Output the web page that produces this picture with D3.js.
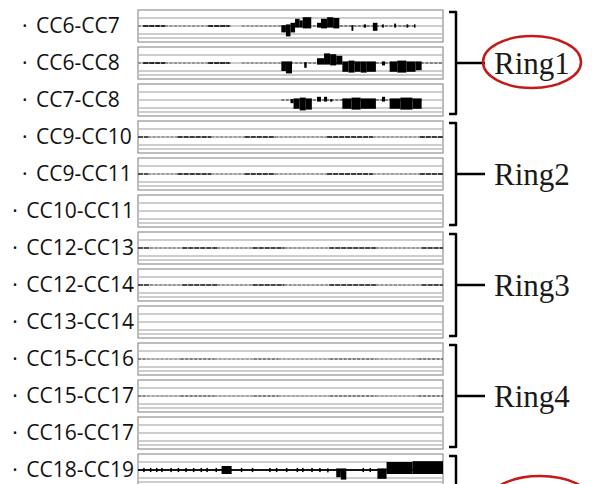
<!DOCTYPE html>
<html>
<head>
<meta charset="utf-8">
<script src="https://cdn.jsdelivr.net/npm/d3@7"></script>
<style>
  body { margin: 0; background: #fff; }
</style>
</head>
<body>
<div id="chart"></div>
<script>
// channel pairs, one panel each
var pairs = ["CC6-CC7", "CC6-CC8", "CC7-CC8", "CC9-CC10", "CC9-CC11", "CC10-CC11",
             "CC12-CC13", "CC12-CC14", "CC13-CC14", "CC15-CC16", "CC15-CC17", "CC16-CC17", "CC18-CC19"];
var ringNames = ["Ring1", "Ring2", "Ring3", "Ring4", "Ring5"];
var ringOf = [0, 0, 0, 1, 1, 1, 2, 2, 2, 3, 3, 3, 4];
var circled = ["Ring1", "Ring5"];
var gridTicks = [5, 0, -5, -7.5];

// baseline trace pieces: [start %, end %, shade]
var traceCC6CC7 = [[0, 31, .35], [1.7, 8.9, .75], [23, 30, .75], [34, 47, .35], [47, 91, .5]];
var traceCC6CC8 = [[0, 31, .35], [1.7, 8.9, .75], [23, 30, .75], [34, 47, .35], [47, 100, .5]];
var traceCC7CC8 = [[47, 93, .5]];
var traceRing2 = [[0, 3.3, .6], [3.3, 13, .3], [13, 24, .7], [24, 35, .3], [35, 45, .7],
                  [45, 62, .3], [62, 77, .7], [77, 92.4, .3], [92.4, 100, .7]];
var traceRing3 = [[0, 4, .6], [4, 14.5, .35], [14.5, 26, .65], [26, 37.6, .35], [37.6, 48, .65],
                  [48, 62.7, .35], [62.7, 78, .65], [78, 93, .35], [93, 100, .65]];
var traceRing4 = [[0, 3, .45], [3, 14, .25], [14, 25, .5], [25, 38, .25], [38, 46, .5],
                  [46, 63, .25], [63, 78, .5], [78, 92, .25], [92, 100, .5]];
var traceCC18CC19 = [[0, 100, .9]];

// bursts: [start %, end %, up, down]
var burstCC6CC7 = [[47, 48.5, .5, 4], [48.5, 50, 1, 6.5], [50, 51.5, 2, 4], [51.5, 53, 4.5, 1], [53, 54, 3.5, 1],
                   [54, 56.8, 5.5, 1.5], [58.7, 60, 2, 1], [60, 62, 4.5, 1.5], [62, 64, 5.5, 1], [64, 66, 5, 1.5],
                   [70, 70.6, .5, 3], [74, 74.8, 1, 1], [77, 78.5, 2, 3], [80, 80.6, 1, 1], [84, 84.6, 1.5, 1],
                   [88, 88.6, 1, 1], [90.5, 91, 1, 1]];
var burstCC6CC8 = [[47, 48.5, 1, 5], [48.5, 50.5, 1, 6.5], [54.5, 55.3, .5, 3], [58.7, 61, 3, 1], [61, 63, 6, 1],
                   [63, 65, 5.5, 1.5], [65, 67, 4.5, 1], [67, 69, 1, 5.5], [69, 71, 1.5, 6], [71, 73, 1, 5.5],
                   [73, 75, 1, 6], [75, 78, 1, 5.5], [80, 81, 1, 1.5], [82.5, 85, 1, 5.5], [85, 88, 1.5, 6],
                   [88, 91, 1, 5.5], [91, 93, 1, 4.5]];
var burstCC7CC8 = [[50, 51, .5, 2], [51, 53, 1, 5.5], [53, 55, 1.5, 6.5], [55, 57, 1, 6], [58.7, 60, 2, 1],
                   [61, 62, 2, 1], [63, 63.7, .5, 1], [67, 70, 1, 5.5], [70, 73, 1.5, 6], [73, 78, 1, 5.5],
                   [80, 81, 2, 1], [82.5, 86, 1, 5.5], [86, 90, 1.5, 6], [90, 93, 1, 5.5]];
var burstCC18CC19 = [[1.7, 2.2, 1.3, 1.3], [3.9, 4.4, 1.3, 1.3], [5.9, 6.4, 1.3, 1.3], [7.6, 8.1, 1.3, 1.3],
                     [10.6, 11.1, 1.3, 1.3], [13, 13.5, 1.3, 1.3], [15.5, 16, 1.3, 1.3], [18, 18.5, 1.3, 1.3],
                     [20.5, 21, 1.3, 1.3], [22.4, 22.9, 1.3, 1.3], [25.4, 25.9, 1.3, 1.3], [27.4, 30.7, 2.5, 2.5],
                     [33.7, 34.2, 1.3, 1.3], [37.3, 37.8, 1.3, 1.3], [43, 43.5, 1.3, 1.3], [45.2, 45.7, 1.3, 1.3],
                     [48.5, 49, 1.3, 1.3], [52, 52.5, 1.3, 1.3], [53.8, 54.3, 1.3, 1.3], [56.8, 57.3, 1.3, 1.3],
                     [59.4, 59.9, 1.3, 1.3], [62, 62.5, 1, 1.5], [65, 66.5, 1, 4.5], [66.5, 68.3, 1, 6],
                     [73.6, 74.1, 1.3, 1.3], [75.9, 76.4, 1.3, 1.3], [78.5, 81.5, 1, 5.5], [81.5, 90, 5, 2.5],
                     [90, 100, 5.5, 2.5]];

var traces = [traceCC6CC7, traceCC6CC8, traceCC7CC8, traceRing2, traceRing2, [],
              traceRing3, traceRing3, [], traceRing4, traceRing4, [], traceCC18CC19];
var bursts = [burstCC6CC7, burstCC6CC8, burstCC7CC8, [], [], [], [], [], [], [], [], [], burstCC18CC19];

var width = 592, height = 484;
var svg = d3.select('#chart').append('svg')
  .attr('width', width).attr('height', height);

var x = d3.scaleLinear().domain([0, 100]).range([138, 443]);
var step = 37;
var row = d3.scaleBand().domain(pairs).range([10, 10 + step * 13 - 5]).paddingInner(5 / step).paddingOuter(0);
var bw = row.bandwidth();

pairs.forEach(function (p, i) {
  var top = row(p);
  var y = d3.scaleLinear().domain([10, -10]).range([top, top + bw]);
  var g = svg.append('g');

  g.append('rect')
    .attr('x', x(0)).attr('y', top)
    .attr('width', x(100) - x(0)).attr('height', bw)
    .attr('fill', 'none').attr('stroke', '#9a9a9a').attr('stroke-width', 1.3);

  g.selectAll('line.grid').data(gridTicks).enter().append('line')
    .attr('x1', x(0) + 1).attr('x2', x(100) - 1)
    .attr('y1', function (d) { return y(d); }).attr('y2', function (d) { return y(d); })
    .attr('stroke', '#bdbdbd').attr('stroke-width', 1.3);

  g.selectAll('line.trace').data(traces[i]).enter().append('line')
    .attr('x1', function (d) { return x(d[0]); }).attr('x2', function (d) { return x(d[1]); })
    .attr('y1', y(0)).attr('y2', y(0))
    .attr('stroke', '#000')
    .attr('stroke-opacity', function (d) { return d[2]; })
    .attr('stroke-width', function (d) { return d[2] > .55 ? 1.8 : 1.4; })
    .attr('stroke-dasharray', function (d) { return d[2] > .8 ? null : (d[2] > .55 ? '5,1' : '3,1.5'); });

  g.selectAll('rect.burst').data(bursts[i]).enter().append('rect')
    .attr('x', function (d) { return x(d[0]); })
    .attr('width', function (d) { return Math.max(1, x(d[1]) - x(d[0])); })
    .attr('y', function (d) { return y(d[2]); })
    .attr('height', function (d) { return y(-d[3]) - y(d[2]); })
    .attr('fill', '#000');

  // label with bullet
  var t = svg.append('text')
    .attr('y', top + bw / 2 - 1)
    .attr('dominant-baseline', 'central')
    .attr('font-family', '"Open Sans", sans-serif')
    .attr('font-size', 21)
    .attr('fill', '#111')
    .attr('x', 36)
    .text(p);
  var w = t.node().getComputedTextLength();
  var sx = Math.min(36, 134 - w);
  t.attr('x', sx);
  svg.append('text')
    .attr('x', sx - 14).attr('y', top + bw / 2 - 1)
    .attr('dominant-baseline', 'central')
    .attr('font-family', '"Open Sans", sans-serif')
    .attr('font-size', 21).attr('fill', '#111')
    .text('·');
});

// ring brackets, each spanning three rows (Ring5 runs below the picture)
ringNames.forEach(function (r, k) {
  var y0 = row(pairs[k * 3]) + 2;
  var y1 = y0 + step * 3 - 5 - 4;
  var bx = 456;
  svg.append('path')
    .attr('d', 'M' + (bx - 7) + ',' + y0 + 'H' + bx + 'V' + y1 + 'H' + (bx - 7))
    .attr('fill', 'none').attr('stroke', '#000').attr('stroke-width', 2.5)
    .attr('stroke-linejoin', 'round');
  var ym = (y0 + y1) / 2;
  svg.append('line')
    .attr('x1', bx).attr('x2', 485).attr('y1', ym).attr('y2', ym)
    .attr('stroke', '#000').attr('stroke-width', 2.5);
  if (circled.indexOf(r) >= 0) {
    svg.append('ellipse')
      .attr('cx', k === 4 ? 540 : 532).attr('cy', k === 4 ? ym - 5 : ym - 1)
      .attr('rx', k === 4 ? 52 : 49).attr('ry', 26)
      .attr('fill', 'none').attr('stroke', '#c41a1a').attr('stroke-width', 2.5);
  }
  if (ym + 16 < height) {
    svg.append('text')
      .attr('x', 494).attr('y', ym)
      .attr('dominant-baseline', 'central')
      .attr('font-family', '"Liberation Serif", serif')
      .attr('font-size', 31).attr('fill', '#1a1a1a')
      .text(r);
  }
});
</script>
</body>
</html>
